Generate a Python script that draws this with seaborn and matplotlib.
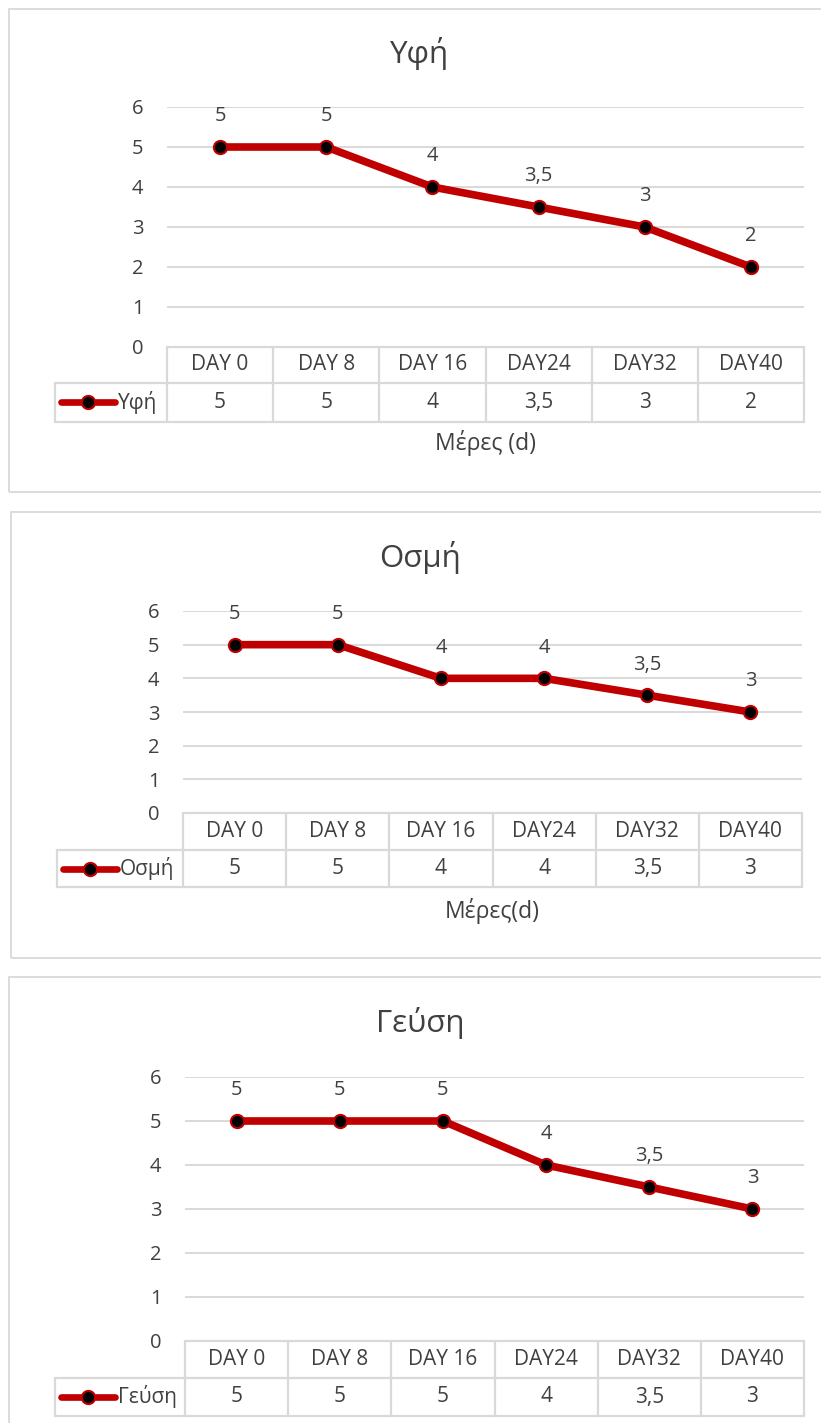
import numpy as np
import pandas as pd
import matplotlib
matplotlib.use("Agg")
import matplotlib.pyplot as plt
import seaborn as sns
from matplotlib.lines import Line2D
from matplotlib.patches import Rectangle
from matplotlib.transforms import blended_transform_factory

# ---- data -------------------------------------------------------------
days = ["DAY 0", "DAY 8", "DAY 16", "DAY24", "DAY32", "DAY40"]
texture = [5, 5, 4, 3.5, 3, 2]        # Υφή
odor = [5, 5, 4, 4, 3.5, 3]           # Οσμή
taste = [5, 5, 5, 4, 3.5, 3]          # Γεύση
y_ticks = [0, 1, 2, 3, 4, 5, 6]

# ---- style ------------------------------------------------------------
W, H = 821, 1423
RED = "#C00000"
TEXT = "#404040"
GRID = "#D9D9D9"
TICK_FS = 14.5
TABLE_FS = 15
LABEL_FS = 14.5

sns.set_theme(style="white")
plt.rcParams["font.family"] = ["Open Sans", "DejaVu Sans"]

fig = plt.figure(figsize=(W / 100, H / 100), dpi=100)
fig.patch.set_facecolor("white")


def fx(px):
    return px / W


def fy(py):
    return 1 - py / H


def fmt(v):
    return f"{v:g}".replace(".", ",")


def panel(title, values, xlabel, frame, axes_px, rows_px, legend_left,
          title_y, xlabel_y):
    # outer chart frame
    fl, ft, fb = frame
    fig.add_artist(Rectangle((fx(fl), fy(fb)), fx(W + 20 - fl), fy(ft) - fy(fb),
                             transform=fig.transFigure, fill=False,
                             edgecolor=GRID, lw=1.3, clip_on=False))

    x0, y0, x1, y1 = axes_px
    ax = fig.add_axes([fx(x0), fy(y1), fx(x1) - fx(x0), fy(y0) - fy(y1)])
    ax.set_facecolor("none")

    df = pd.DataFrame({"day": days, "score": values})
    sns.lineplot(data=df, x="day", y="score", ax=ax, sort=False,
                 color=RED, lw=5.5, marker="o", markersize=9.5,
                 markerfacecolor="black", markeredgecolor=RED,
                 markeredgewidth=1.5, zorder=3)

    ax.set_xlim(-0.5, len(days) - 0.5)
    ax.set_ylim(y_ticks[0], y_ticks[-1])
    ax.set_yticks(y_ticks)
    ax.set_yticklabels([str(t) for t in y_ticks])
    ax.set_xticks([])
    ax.set_xlabel("")
    ax.set_ylabel("")
    for s in ax.spines.values():
        s.set_visible(False)
    ax.tick_params(axis="y", length=0, pad=17, labelsize=TICK_FS,
                   labelcolor=TEXT)
    for t in y_ticks[1:]:
        ax.axhline(t, color=GRID, lw=1.4, zorder=1)

    # value labels above each point
    for i, v in enumerate(values):
        ax.annotate(fmt(v), (i, v), xytext=(0, 22), textcoords="offset points",
                    ha="center", va="center", fontsize=LABEL_FS, color=TEXT)

    # data table under the plot
    h = y1 - y0
    col_px = (x1 - x0) / len(days)
    tr = blended_transform_factory(ax.transData, ax.transAxes)
    top, mid, bot = rows_px

    def af(py):
        return (y1 - py) / h

    xl = -0.5
    xr = len(days) - 0.5
    xleg = -0.5 - (x0 - legend_left) / col_px
    segs = [
        ([xl, xr], [af(top), af(top)]),
        ([xleg, xr], [af(mid), af(mid)]),
        ([xleg, xr], [af(bot), af(bot)]),
        ([xleg, xleg], [af(mid), af(bot)]),
    ]
    for k in range(len(days) + 1):
        segs.append(([xl + k, xl + k], [af(top), af(bot)]))
    for xs, ys in segs:
        ax.add_line(Line2D(xs, ys, transform=tr, color=GRID, lw=1.6,
                           clip_on=False, zorder=2))

    for i, (d, v) in enumerate(zip(days, values)):
        ax.text(i, af((top + mid) / 2), d, transform=tr, ha="center",
                va="center", fontsize=TABLE_FS, color=TEXT, clip_on=False)
        ax.text(i, af((mid + bot) / 2), fmt(v), transform=tr, ha="center",
                va="center", fontsize=TABLE_FS, color=TEXT, clip_on=False)

    # legend key inside the table's row header
    yc = fy((mid + bot) / 2)
    fig.add_artist(Line2D([fx(legend_left + 6), fx(legend_left + 60)],
                          [yc, yc], transform=fig.transFigure, color=RED,
                          lw=4.8, solid_capstyle="round"))
    fig.add_artist(Line2D([fx(legend_left + 33)], [yc],
                          transform=fig.transFigure, color=RED, lw=0,
                          marker="o", markersize=9.5, markerfacecolor="black",
                          markeredgecolor=RED, markeredgewidth=1.5))
    fig.text(fx(legend_left + 63), yc, title, ha="left", va="center",
             fontsize=TABLE_FS, color=TEXT)

    # chart title and axis title
    fig.text(fx(420), fy(title_y), title, ha="center", va="center",
             fontsize=22.5, color=TEXT)
    if xlabel:
        fig.text(fx((x0 + x1) / 2), fy(xlabel_y), xlabel, ha="center",
                 va="center", fontsize=16.5, color=TEXT)


panel("Υφή", texture, "Μέρες (d)", frame=(9, 9, 492),
      axes_px=(167, 107, 804, 347), rows_px=(347, 383, 422),
      legend_left=55, title_y=53, xlabel_y=443)

panel("Οσμή", odor, "Μέρες(d)", frame=(11, 512, 958),
      axes_px=(183, 611, 802, 813), rows_px=(813, 850, 887),
      legend_left=57, title_y=557, xlabel_y=911)

panel("Γεύση", taste, None, frame=(9, 977, 1460),
      axes_px=(185, 1077, 804, 1341), rows_px=(1341, 1378, 1416),
      legend_left=55, title_y=1023, xlabel_y=None)

fig.savefig("out.png", dpi=100, facecolor="white")
